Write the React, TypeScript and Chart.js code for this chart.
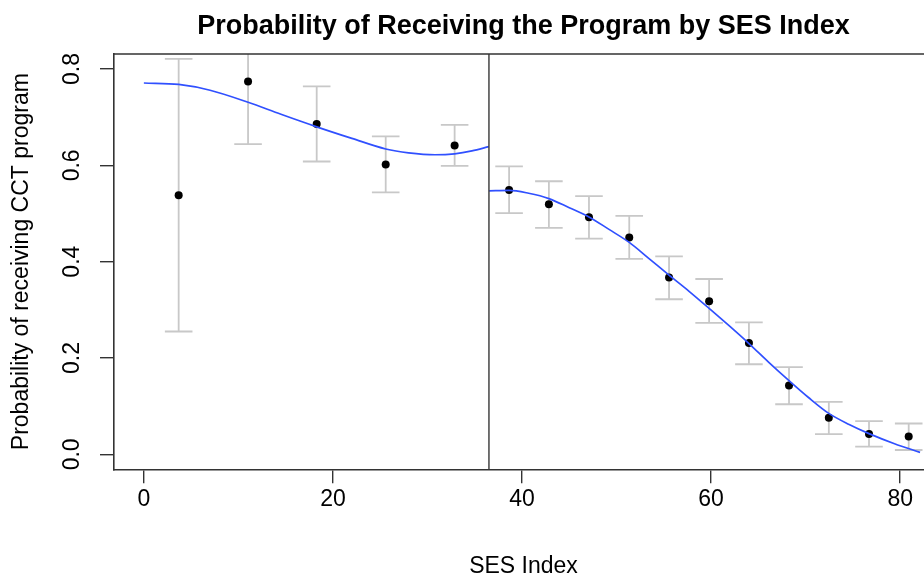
import { useEffect, useRef } from "react";
import { Chart, registerables } from "chart.js";

Chart.register(...registerables);

// ---- data ----
const titleText = "Probability of Receiving the Program by SES Index";
const xTitle = "SES Index";
const yTitle = "Probability of receiving CCT program";
const xTicks = [0, 20, 40, 60, 80];
const yTicks = [0.0, 0.2, 0.4, 0.6, 0.8];
const xRange = [-3.16, 83.47];
const yRange = [-0.0311, 0.8312];
const cutoff = 36.5;

// binned means with confidence bars (left of cutoff)
const leftBinX = [3.68, 11.02, 18.28, 25.58, 32.87];
const leftBinY = [0.538, 0.774, 0.686, 0.602, 0.641];
const leftBinLo = [0.255, 0.644, 0.608, 0.544, 0.599];
const leftBinHi = [0.821, 0.904, 0.764, 0.66, 0.684];

// binned means with confidence bars (right of cutoff)
const rightBinX = [38.63, 42.84, 47.08, 51.34, 55.55, 59.79, 64.0, 68.24, 72.45, 76.7, 80.9];
const rightBinY = [0.549, 0.519, 0.492, 0.45, 0.367, 0.318, 0.231, 0.143, 0.076, 0.042, 0.037];
const rightBinLo = [0.501, 0.47, 0.448, 0.406, 0.322, 0.273, 0.187, 0.104, 0.042, 0.016, 0.009];
const rightBinHi = [0.598, 0.567, 0.536, 0.495, 0.411, 0.364, 0.274, 0.181, 0.109, 0.069, 0.064];

// fitted curves
const leftFitX = [0, 3.68, 7, 11.02, 14.5, 18.28, 22, 25.58, 28, 30.8, 32.87, 34.7, 36.5];
const leftFitY = [0.771, 0.768, 0.756, 0.731, 0.706, 0.68, 0.656, 0.634, 0.626, 0.622, 0.624, 0.63, 0.639];
const rightFitX = [36.5, 38.63, 40.7, 42.84, 45, 47.08, 49.2, 51.34, 53.4, 55.55, 57.7, 59.79, 61.9, 64.0, 66.1, 68.24, 70.3, 72.45, 74.6, 76.7, 79.4, 82.1];
const rightFitY = [0.547, 0.548, 0.542, 0.531, 0.512, 0.493, 0.467, 0.44, 0.407, 0.372, 0.338, 0.303, 0.267, 0.23, 0.191, 0.153, 0.118, 0.085, 0.062, 0.043, 0.022, 0.004];

const FONT = "'Liberation Sans', Arial, Helvetica, sans-serif";
const AXIS_COLOR = "#333333";

const zip = (xs: number[], ys: number[]) => xs.map((x, i) => ({ x, y: ys[i] }));

const errorBarPlugin = {
  id: "errorBars",
  beforeDatasetsDraw(chart: any) {
    const { ctx, chartArea, scales } = chart;
    const xs = scales.x;
    const ys = scales.y;
    ctx.save();
    ctx.beginPath();
    ctx.rect(chartArea.left, chartArea.top, chartArea.right - chartArea.left, chartArea.bottom - chartArea.top);
    ctx.clip();
    ctx.strokeStyle = "#c8c8c8";
    ctx.lineWidth = 1.8;
    const cap = 13.8;
    const draw = (bx: number[], lo: number[], hi: number[]) => {
      bx.forEach((v, i) => {
        const px = xs.getPixelForValue(v);
        const pt = ys.getPixelForValue(hi[i]);
        const pb = ys.getPixelForValue(lo[i]);
        ctx.beginPath();
        ctx.moveTo(px, pt);
        ctx.lineTo(px, pb);
        ctx.moveTo(px - cap, pt);
        ctx.lineTo(px + cap, pt);
        ctx.moveTo(px - cap, pb);
        ctx.lineTo(px + cap, pb);
        ctx.stroke();
      });
    };
    draw(leftBinX, leftBinLo, leftBinHi);
    draw(rightBinX, rightBinLo, rightBinHi);
    ctx.restore();
  },
  afterDatasetsDraw(chart: any) {
    const { ctx, chartArea, scales } = chart;
    ctx.save();
    // cutoff line
    const cx = scales.x.getPixelForValue(cutoff);
    ctx.strokeStyle = "#444444";
    ctx.lineWidth = 1.5;
    ctx.beginPath();
    ctx.moveTo(cx, chartArea.top);
    ctx.lineTo(cx, chartArea.bottom);
    ctx.stroke();
    // top and right border of the box
    ctx.strokeStyle = AXIS_COLOR;
    ctx.lineWidth = 1.6;
    ctx.beginPath();
    ctx.moveTo(chartArea.left, chartArea.top);
    ctx.lineTo(chartArea.right, chartArea.top);
    ctx.lineTo(chartArea.right, chartArea.bottom);
    ctx.stroke();
    ctx.restore();
  },
};

export default function App() {
  const ref = useRef<HTMLCanvasElement | null>(null);

  useEffect(() => {
    if (!ref.current) return;
    const chart = new Chart(ref.current, {
      type: "scatter",
      data: {
        datasets: [
          {
            type: "line",
            data: zip(leftFitX, leftFitY),
            borderColor: "#3050ff",
            borderWidth: 1.7,
            pointRadius: 0,
            cubicInterpolationMode: "monotone",
            fill: false,
          } as any,
          {
            type: "line",
            data: zip(rightFitX, rightFitY),
            borderColor: "#3050ff",
            borderWidth: 1.7,
            pointRadius: 0,
            cubicInterpolationMode: "monotone",
            fill: false,
          } as any,
          {
            data: zip(leftBinX, leftBinY),
            backgroundColor: "#000000",
            borderColor: "#000000",
            pointRadius: 4,
            borderWidth: 0,
          },
          {
            data: zip(rightBinX, rightBinY),
            backgroundColor: "#000000",
            borderColor: "#000000",
            pointRadius: 4,
            borderWidth: 0,
          },
        ],
      },
      options: {
        animation: false,
        responsive: false,
        devicePixelRatio: 1,
        layout: { padding: 0 },
        events: [],
        plugins: {
          legend: { display: false },
          tooltip: { enabled: false },
          title: {
            display: true,
            text: titleText,
            fullSize: false,
            color: "#000000",
            font: { family: FONT, size: 27, weight: "bold", lineHeight: 1.2 },
            padding: { top: 10.8, bottom: 10.8 },
          },
        },
        scales: {
          x: {
            type: "linear",
            min: xRange[0],
            max: xRange[1],
            afterBuildTicks: (s: any) => {
              s.ticks = xTicks.map((v) => ({ value: v }));
            },
            afterFit: (s: any) => {
              s.height = 104.7;
            },
            grid: {
              display: true,
              drawOnChartArea: false,
              drawTicks: true,
              tickLength: 14,
              color: AXIS_COLOR,
              lineWidth: 1.4,
            },
            border: { display: true, color: AXIS_COLOR, width: 1.6 },
            ticks: {
              autoSkip: false,
              minRotation: 0,
              maxRotation: 0,
              padding: 3,
              color: "#000000",
              font: { family: FONT, size: 23, lineHeight: 1.2 },
              callback: (v: any) => String(v),
            },
            title: {
              display: true,
              text: xTitle,
              color: "#000000",
              font: { family: FONT, size: 23, lineHeight: 0.6 },
              padding: { top: 0, bottom: 0 },
            },
          },
          y: {
            type: "linear",
            min: yRange[0],
            max: yRange[1],
            afterBuildTicks: (s: any) => {
              s.ticks = yTicks.map((v) => ({ value: v }));
            },
            afterFit: (s: any) => {
              s.width = 114;
            },
            grid: {
              display: true,
              drawOnChartArea: false,
              drawTicks: true,
              tickLength: 14,
              color: AXIS_COLOR,
              lineWidth: 1.4,
            },
            border: { display: true, color: AXIS_COLOR, width: 1.6 },
            ticks: {
              autoSkip: false,
              minRotation: 90,
              maxRotation: 90,
              crossAlign: "center",
              padding: 11,
              color: "#000000",
              font: { family: FONT, size: 23, lineHeight: 1.2 },
              callback: (v: any) => Number(v).toFixed(1),
            },
            title: {
              display: true,
              text: yTitle,
              color: "#000000",
              font: { family: FONT, size: 23, lineHeight: 1.2 },
              padding: { top: 8, bottom: 0 },
            },
          },
        },
      },
      plugins: [errorBarPlugin],
    } as any);
    return () => chart.destroy();
  }, []);

  return (
    <div style={{ position: "absolute", left: 0, top: 0, width: 924, height: 574, overflow: "hidden", background: "#ffffff" }}>
      <canvas ref={ref} width={937} height={574} style={{ display: "block" }} />
    </div>
  );
}
